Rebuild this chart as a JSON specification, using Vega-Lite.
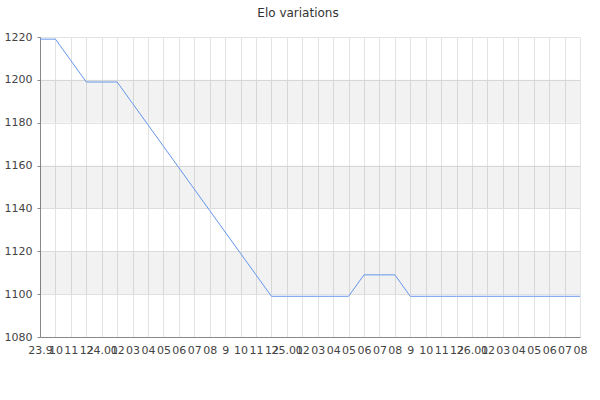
{
  "$schema": "https://vega.github.io/schema/vega-lite/v6.json",
  "description": "Elo variations by month",
  "width": 540,
  "height": 300,
  "autosize": "none",
  "padding": {"left": 40, "top": 37, "right": 20, "bottom": 63},
  "title": {
    "text": "Elo variations",
    "font": "DejaVu Sans",
    "fontSize": 12,
    "fontWeight": "normal",
    "color": "#333333",
    "offset": 11,
    "dx": -12
  },
  "datasets": {
    "elo": [
      {"month": "2023-09", "elo": 1219},
      {"month": "2023-10", "elo": 1219},
      {"month": "2023-11", "elo": 1209},
      {"month": "2023-12", "elo": 1199},
      {"month": "2024-01", "elo": 1199},
      {"month": "2024-02", "elo": 1199},
      {"month": "2024-03", "elo": 1189},
      {"month": "2024-04", "elo": 1179},
      {"month": "2024-05", "elo": 1169},
      {"month": "2024-06", "elo": 1159},
      {"month": "2024-07", "elo": 1149},
      {"month": "2024-08", "elo": 1139},
      {"month": "2024-09", "elo": 1129},
      {"month": "2024-10", "elo": 1119},
      {"month": "2024-11", "elo": 1109},
      {"month": "2024-12", "elo": 1099},
      {"month": "2025-01", "elo": 1099},
      {"month": "2025-02", "elo": 1099},
      {"month": "2025-03", "elo": 1099},
      {"month": "2025-04", "elo": 1099},
      {"month": "2025-05", "elo": 1099},
      {"month": "2025-06", "elo": 1109},
      {"month": "2025-07", "elo": 1109},
      {"month": "2025-08", "elo": 1109},
      {"month": "2025-09", "elo": 1099},
      {"month": "2025-10", "elo": 1099},
      {"month": "2025-11", "elo": 1099},
      {"month": "2025-12", "elo": 1099},
      {"month": "2026-01", "elo": 1099},
      {"month": "2026-02", "elo": 1099},
      {"month": "2026-03", "elo": 1099},
      {"month": "2026-04", "elo": 1099},
      {"month": "2026-05", "elo": 1099},
      {"month": "2026-06", "elo": 1099},
      {"month": "2026-07", "elo": 1099},
      {"month": "2026-08", "elo": 1099}
    ],
    "bands": [
      {"lo": 1100, "hi": 1120},
      {"lo": 1140, "hi": 1160},
      {"lo": 1180, "hi": 1200}
    ]
  },
  "layer": [
    {
      "data": {"name": "bands"},
      "mark": {"type": "rect", "fill": "#000000", "fillOpacity": 0.05},
      "encoding": {
        "y": {"field": "lo", "type": "quantitative", "scale": {"domain": [1080, 1220], "nice": false}},
        "y2": {"field": "hi"}
      }
    },
    {
      "data": {"name": "elo"},
      "mark": {"type": "line", "color": "#6495ed", "strokeWidth": 1},
      "encoding": {
        "x": {
          "field": "month",
          "type": "ordinal",
          "sort": null,
          "scale": {"type": "point", "padding": 0},
          "axis": {
            "title": null,
            "ticks": false,
            "grid": true,
            "gridColor": "#e3e3e3",
            "domainColor": "#888888",
            "labelAngle": 0,
            "labelOverlap": false,
            "labelPadding": 7,
            "labelExpr": "substring(datum.value,5,7) == '01' ? substring(datum.value,2,4) + '.01' : datum.value == '2023-09' ? '23.9' : substring(datum.value,5,7) == '09' ? '9' : substring(datum.value,5,7)"
          }
        },
        "y": {
          "field": "elo",
          "type": "quantitative",
          "scale": {"domain": [1080, 1220], "nice": false},
          "axis": {
            "title": null,
            "values": [1080, 1090, 1100, 1110, 1120, 1130, 1140, 1150, 1160, 1170, 1180, 1190, 1200, 1210, 1220],
            "labelExpr": "datum.value % 20 == 0 ? datum.label : ''",
            "format": "d",
            "gridColor": {"condition": {"test": "datum.value % 20 == 0", "value": "#e3e3e3"}, "value": "transparent"},
            "tickSize": 3,
            "tickColor": "#888888",
            "domainColor": "#888888",
            "labelPadding": 5
          }
        }
      }
    }
  ],
  "config": {
    "view": {"stroke": null},
    "font": "DejaVu Sans",
    "axis": {
      "labelFont": "DejaVu Sans",
      "labelFontSize": 11,
      "labelColor": "#444444",
      "gridOpacity": 1
    }
  }
}
